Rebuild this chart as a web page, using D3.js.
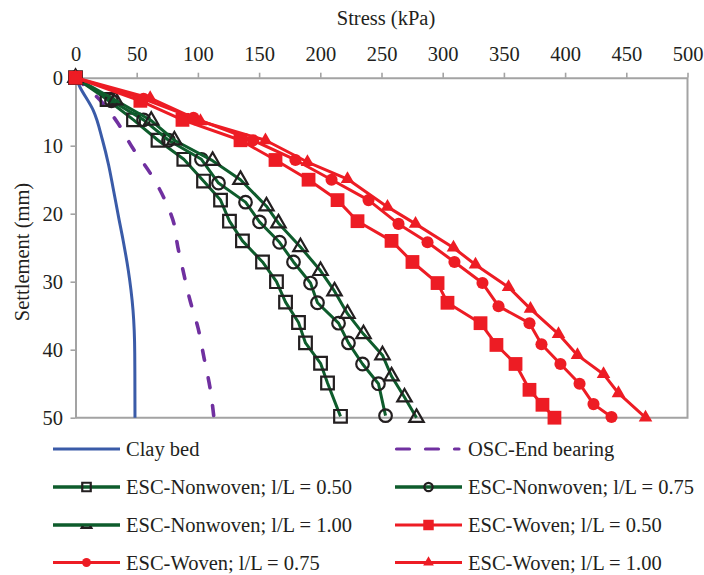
<!DOCTYPE html>
<html><head><meta charset="utf-8">
<script src="https://cdnjs.cloudflare.com/ajax/libs/d3/7.8.5/d3.min.js"></script>
<style>body{margin:0;background:#fff}svg{display:block}text{font-family:"Liberation Serif","Times New Roman",serif;fill:#231f20}</style>
</head><body><svg id="c" width="704" height="575"></svg>
<script>
// ---- data (settlement in mm, stress in kPa) ----
const stressTicks = [0,50,100,150,200,250,300,350,400,450,500];
const settlementTicks = [0,10,20,30,40,50];

const clayBedSettlement = [0,1.4,4.8,9.2,12.8,16.1,20.5,24.0,28.3,31.2,34.2,40.5,50];
const clayBedStress     = [0,3.7,14.5,22.1,27.0,30.6,35.2,39.0,43.1,45.3,47.0,48.4,48.6];

const oscSettlement = [0,3.6,6.7,10.2,14.0,18.0,22.1,24.2,28.3,32.7,36.8,41.2,45.6,50];
const oscStress     = [0,21.6,34.7,46.2,60.9,73.1,81.3,82.9,87.8,93.5,100.1,105.0,109.9,113.1];

const nw050Settlement = [0,3.2,6.2,9.2,12.0,15.2,18.0,21.1,24.0,27.1,30.0,33.0,36.0,39.0,42.0,44.9,49.8];
const nw050Stress     = [0,25.8,47.4,67.4,88.5,104.6,118.5,125.8,136.4,152.8,164.2,171.6,182.2,187.9,200.2,205.9,216.5];

const nw075Settlement = [0,3.4,6.2,9.2,12.0,15.5,18.3,21.2,24.2,27.1,30.2,33.1,36.1,39.0,42.1,45.0,49.7];
const nw075Stress     = [0,29.4,55.6,76.0,102.9,116.8,138.9,150.3,166.7,178.1,192.0,197.7,214.9,223.0,234.5,247.5,253.3];

const nw100Settlement = [0,3.3,6.3,9.2,12.2,15.0,18.9,21.4,24.9,28.4,31.4,34.7,37.7,40.8,43.9,47.0,50.0];
const nw100Stress     = [0,32.5,61.9,80.8,112.0,134.8,156.0,165.8,183.8,200.2,211.6,222.2,235.3,250.8,258.2,268.8,278.6];

const w050Settlement = [0,3.4,6.2,9.2,12.1,15.0,18.0,21.1,24.0,27.1,30.2,33.1,36.1,39.3,42.1,45.9,48.1,50.0];
const w050Stress     = [0,53.0,87.4,134.8,163.4,190.4,214.1,230.4,258.2,275.3,295.8,303.9,330.9,343.9,359.5,370.9,381.5,391.3];

const w075Settlement = [0,3.1,5.9,9.2,12.1,15.0,18.0,21.5,24.2,27.1,30.2,33.6,36.1,39.2,42.1,45.0,48.0,49.9];
const w075Stress     = [0,55.6,96.4,145.0,179.7,209.2,239.4,263.9,287.6,309.6,332.5,345.6,370.9,380.7,396.2,411.8,423.2,437.9];

const w100Settlement = [0,3.0,6.4,9.2,12.4,14.9,19.0,21.5,25.0,27.5,30.8,34.0,37.7,40.8,43.6,46.4,50.0];
const w100Stress     = [0,61.0,102.1,155.2,189.5,222.2,254.9,277.8,308.8,326.8,353.8,371.7,394.6,410.1,431.4,443.6,465.7];

const legendLabels = ["Clay bed","OSC-End bearing","ESC-Nonwoven; l/L = 0.50","ESC-Nonwoven; l/L = 0.75",
  "ESC-Nonwoven; l/L = 1.00","ESC-Woven; l/L = 0.50","ESC-Woven; l/L = 0.75","ESC-Woven; l/L = 1.00"];

// ---- styles ----
const FONT='"Liberation Serif","Times New Roman",serif';
const BLUE="#3a5ba8", PURPLE="#7030a0", GREEN="#0e5c2c", RED="#ed1c24", INK="#231f20", GREY="#a3a3a3";
const zip=(s,v)=>s.map((d,i)=>({s:d,v:v[i]}));
const series=[
  {name:legendLabels[0],data:zip(clayBedSettlement,clayBedStress),color:BLUE,w:3,curve:d3.curveMonotoneY},
  {name:legendLabels[1],data:zip(oscSettlement,oscStress),color:PURPLE,w:3.6,dash:"10 18",curve:d3.curveMonotoneY},
  {name:legendLabels[2],data:zip(nw050Settlement,nw050Stress),color:GREEN,w:3,m:{t:d3.symbolSquare,size:160,hollow:true},lm:{size:72}},
  {name:legendLabels[3],data:zip(nw075Settlement,nw075Stress),color:GREEN,w:3,m:{t:d3.symbolCircle,size:125,hollow:true},lm:{size:55}},
  {name:legendLabels[4],data:zip(nw100Settlement,nw100Stress),color:GREEN,w:3,m:{t:d3.symbolTriangle,size:90,hollow:true},lm:{size:40,clip:true}},
  {name:legendLabels[5],data:zip(w050Settlement,w050Stress),color:RED,w:3,m:{t:d3.symbolSquare,size:190},lm:{size:110}},
  {name:legendLabels[6],data:zip(w075Settlement,w075Stress),color:RED,w:3,m:{t:d3.symbolCircle,size:115},lm:{size:62}},
  {name:legendLabels[7],data:zip(w100Settlement,w100Stress),color:RED,w:3,m:{t:d3.symbolTriangle,size:80},lm:{size:50}}
];

const svg=d3.select("#c");
const x=d3.scaleLinear().domain([0,500]).range([75.5,687.5]);
const y=d3.scaleLinear().domain([0,50]).range([77.7,417.7]);

// frame (right & bottom)
svg.append("path").attr("d",`M${x(0)},${y(50)}H${x(500)}V${y(0)}`).attr("fill","none").attr("stroke",GREY).attr("stroke-width",2);

// axes
const gx=svg.append("g").attr("transform",`translate(0,${y(0)})`)
  .call(d3.axisTop(x).tickValues(stressTicks).tickSize(5).tickSizeOuter(0).tickPadding(11.5));
const gy=svg.append("g").attr("transform",`translate(${x(0)},0)`)
  .call(d3.axisLeft(y).tickValues(settlementTicks).tickSize(5).tickSizeOuter(0).tickPadding(7.5));
[gx,gy].forEach(g=>{
  g.attr("font-family",null).attr("font-size",null);
  g.select(".domain").attr("stroke",GREY).attr("stroke-width",2);
  g.selectAll(".tick line").attr("stroke",GREY).attr("stroke-width",1.6);
  g.selectAll(".tick text").style("font-size","20.5px").style("font-family",FONT).attr("fill",INK);
});

svg.append("text").attr("x",386).attr("y",25).attr("text-anchor","middle").style("font-size","20.5px").style("font-family",FONT).text("Stress (kPa)");
svg.append("text").attr("transform","translate(29,252) rotate(-90)").attr("text-anchor","middle").style("font-size","20.5px").style("font-family",FONT).text("Settlement (mm)");

// series
const plot=svg.append("g");
series.forEach(sr=>{
  const line=d3.line().x(d=>x(d.v)).y(d=>y(d.s)).curve(sr.curve||d3.curveLinear);
  plot.append("path").datum(sr.data).attr("d",line).attr("fill","none")
    .attr("stroke",sr.color).attr("stroke-width",sr.w).attr("stroke-linejoin","round")
    .attr("stroke-linecap",sr.dash?"round":"butt").attr("stroke-dasharray",sr.dash||null);
  if(sr.m){
    const sym=d3.symbol().type(sr.m.t).size(sr.m.size);
    plot.append("g").selectAll("path").data(sr.data).join("path")
      .attr("transform",d=>`translate(${x(d.v)},${y(d.s)})`).attr("d",sym)
      .attr("fill",sr.m.hollow?"none":sr.color)
      .attr("stroke",sr.m.hollow?INK:"none").attr("stroke-width",2.2);
  }
});

// legend
const defs=svg.append("defs");
defs.append("clipPath").attr("id","lowerClip").append("rect").attr("x",-8).attr("y",1).attr("width",16).attr("height",10);
const rowsY=[449,487,525,562.5], colX=[53,395], lineLen=67;
series.forEach((sr,i)=>{
  const cx=colX[i%2], cy=rowsY[Math.floor(i/2)];
  const g=svg.append("g").attr("transform",`translate(${cx},${cy})`);
  g.append("line").attr("x1",sr.dash?1.5:0).attr("x2",sr.dash?64:lineLen).attr("y1",0).attr("y2",0)
    .attr("stroke",sr.color).attr("stroke-width",sr.m&&sr.m.hollow?3.6:3.2)
    .attr("stroke-linecap",sr.dash?"round":"butt").attr("stroke-dasharray",sr.dash?"13 16":null);
  if(sr.m){
    const mg=g.append("g").attr("transform",`translate(${lineLen/2},0)`);
    const p=mg.append("path").attr("d",d3.symbol().type(sr.m.t).size(sr.lm.size))
      .attr("fill",sr.m.hollow?"none":sr.color).attr("stroke",sr.m.hollow?INK:"none").attr("stroke-width",2.2);
    if(sr.lm.clip) p.attr("clip-path","url(#lowerClip)");
  }
  g.append("text").attr("x",lineLen+6).attr("y",7).style("font-size","20.5px").style("font-family",FONT).text(sr.name);
});
</script></body></html>
